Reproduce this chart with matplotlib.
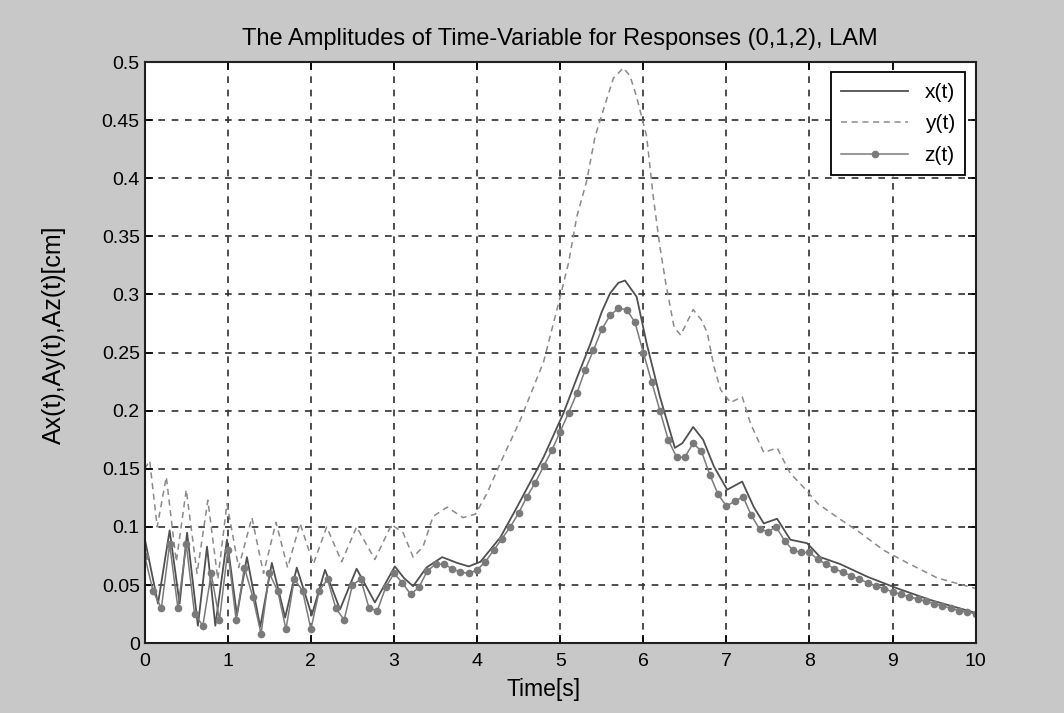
import numpy as np
import matplotlib
matplotlib.use("Agg")
import matplotlib.pyplot as plt

# x(t): solid line at its turning points
tx = [0.00, 0.16, 0.30, 0.42, 0.51, 0.64, 0.75, 0.85, 0.99, 1.11, 1.23, 1.39,
      1.53, 1.69, 1.83, 2.01, 2.17, 2.35, 2.55, 2.77, 3.01, 3.12, 3.23, 3.39,
      3.58, 3.76, 3.90, 4.04, 4.28, 4.48, 4.80, 5.04, 5.20, 5.36, 5.50, 5.60,
      5.70, 5.78, 5.92, 6.04, 6.20, 6.38, 6.47, 6.60, 6.72, 6.85, 7.01, 7.19,
      7.33, 7.45, 7.61, 7.77, 7.97, 8.13, 8.37, 8.70, 9.06, 9.46, 10.0]
ax_t = [0.090, 0.034, 0.097, 0.034, 0.095, 0.015, 0.083, 0.015, 0.089, 0.024, 0.074, 0.014,
        0.069, 0.022, 0.065, 0.024, 0.063, 0.029, 0.064, 0.035, 0.066, 0.056, 0.049, 0.065,
        0.074, 0.069, 0.066, 0.070, 0.091, 0.117, 0.160, 0.198, 0.228, 0.257, 0.285, 0.301,
        0.310, 0.312, 0.298, 0.258, 0.212, 0.168, 0.172, 0.186, 0.175, 0.152, 0.132, 0.139,
        0.117, 0.103, 0.107, 0.089, 0.086, 0.074, 0.068, 0.057, 0.047, 0.037, 0.026]

# y(t): dashed line
ty = [0.00, 0.06, 0.15, 0.26, 0.38, 0.50, 0.63, 0.76, 0.88, 0.99, 1.13, 1.29,
      1.43, 1.58, 1.72, 1.87, 2.03, 2.19, 2.37, 2.55, 2.77, 2.97, 3.11, 3.23,
      3.35, 3.47, 3.64, 3.83, 3.98, 4.12, 4.28, 4.52, 4.80, 5.00, 5.10, 5.20,
      5.32, 5.42, 5.52, 5.64, 5.76, 5.84, 5.92, 6.04, 6.12, 6.20, 6.27, 6.37,
      6.45, 6.60, 6.70, 6.77, 6.85, 6.93, 7.05, 7.19, 7.29, 7.45, 7.61, 7.77,
      7.93, 8.10, 8.34, 8.61, 8.89, 9.18, 9.54, 10.0]
ay_t = [0.150, 0.157, 0.100, 0.143, 0.070, 0.132, 0.060, 0.123, 0.055, 0.120, 0.065, 0.108,
        0.060, 0.104, 0.065, 0.103, 0.068, 0.100, 0.070, 0.100, 0.072, 0.102, 0.095, 0.074,
        0.083, 0.109, 0.117, 0.108, 0.111, 0.129, 0.155, 0.192, 0.242, 0.298, 0.327, 0.367,
        0.398, 0.436, 0.459, 0.486, 0.495, 0.488, 0.470, 0.436, 0.384, 0.341, 0.310, 0.272,
        0.265, 0.287, 0.278, 0.267, 0.238, 0.218, 0.207, 0.212, 0.189, 0.164, 0.168, 0.146,
        0.134, 0.120, 0.108, 0.095, 0.080, 0.069, 0.056, 0.047]

# z(t): line with markers, one sample every 0.1 s
tz = np.round(np.arange(101) * 0.1, 1)
az_t = [0.075, 0.045, 0.030, 0.085, 0.030, 0.085, 0.025, 0.015, 0.060, 0.020,
        0.080, 0.020, 0.065, 0.040, 0.008, 0.060, 0.045, 0.012, 0.055, 0.045,
        0.012, 0.045, 0.055, 0.030, 0.020, 0.050, 0.055, 0.030, 0.028, 0.048,
        0.060, 0.052, 0.042, 0.048, 0.062, 0.068, 0.068, 0.064, 0.061, 0.060,
        0.063, 0.070, 0.080, 0.090, 0.100, 0.112, 0.126, 0.138, 0.152, 0.166,
        0.182, 0.198, 0.215, 0.235, 0.252, 0.270, 0.282, 0.288, 0.287, 0.276,
        0.250, 0.225, 0.200, 0.175, 0.160, 0.160, 0.172, 0.165, 0.145, 0.128,
        0.118, 0.122, 0.126, 0.110, 0.098, 0.096, 0.100, 0.088, 0.080, 0.078,
        0.078, 0.072, 0.068, 0.064, 0.061, 0.058, 0.055, 0.052, 0.049, 0.047,
        0.044, 0.042, 0.040, 0.038, 0.036, 0.034, 0.032, 0.030, 0.028, 0.027,
        0.025]

xticks = list(range(0, 11))
yticks = [0, 0.05, 0.1, 0.15, 0.2, 0.25, 0.3, 0.35, 0.4, 0.45, 0.5]
ytick_labels = ["0", "0.05", "0.1", "0.15", "0.2", "0.25", "0.3", "0.35", "0.4", "0.45", "0.5"]

plt.rcParams['font.family'] = ['Liberation Sans', 'DejaVu Sans']

fig = plt.figure(figsize=(10.64, 7.13), dpi=100, facecolor='#c8c8c8')
ax = fig.add_axes([0.136, 0.098, 0.781, 0.815])
ax.set_facecolor('white')

ax.plot(tx, ax_t, color='#505050', lw=1.3, label='x(t)')
ax.plot(ty, ay_t, color='#8a8a8a', lw=1.1, ls=(0, (4, 3)), label='y(t)')
ax.plot(tz, az_t, color='#7a7a7a', lw=1.1, marker='o', ms=4.5, mec='#7a7a7a',
        mfc='#7a7a7a', label='z(t)')

ax.set_xlim(0, 10)
ax.set_ylim(0, 0.5)
ax.set_xticks(xticks)
ax.set_yticks(yticks)
ax.set_yticklabels(ytick_labels)
ax.tick_params(direction='in', top=True, right=True, labelsize=14, length=6, width=1.2)
ax.tick_params(axis='x', pad=7)
ax.grid(True, color='#303030', ls=(0, (4, 4)), lw=1.2)
for s in ax.spines.values():
    s.set_linewidth(1.5)
    s.set_color('#202020')

ax.set_title('The Amplitudes of Time-Variable for Responses (0,1,2), LAM',
             fontsize=17, pad=12)
ax.set_xlabel('Time[s]', fontsize=16.5, labelpad=4)
ax.set_ylabel('Ax(t),Ay(t),Az(t)[cm]', fontsize=18, labelpad=2)
ax.yaxis.set_label_coords(-0.095, 0.53)
ax.xaxis.set_label_coords(0.48, -0.06)

leg = ax.legend(loc='upper right', fontsize=15, frameon=True, fancybox=False,
                framealpha=1, edgecolor='black', handlelength=3.2,
                borderaxespad=0.5, labelspacing=0.6, borderpad=0.5)
leg.get_frame().set_linewidth(1.3)

fig.savefig('out.png', dpi=100, facecolor=fig.get_facecolor())
